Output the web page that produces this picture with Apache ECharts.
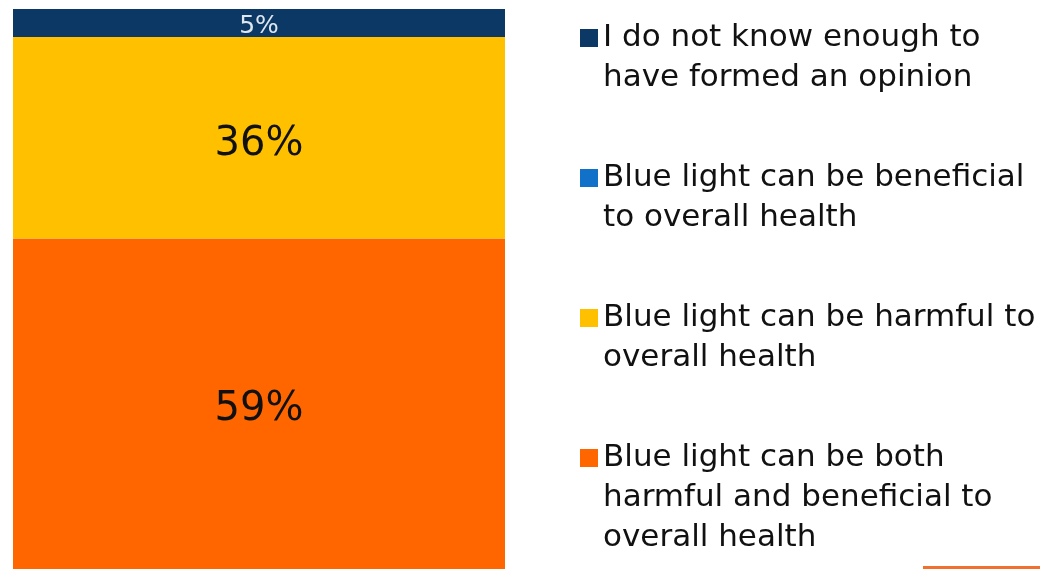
<!DOCTYPE html>
<html>
<head>
<meta charset="utf-8">
<script src="https://cdn.jsdelivr.net/npm/echarts@6/dist/echarts.min.js"></script>
<style>
  html, body { margin: 0; padding: 0; background: #fff; }
  #chart { width: 1040px; height: 569px; }
</style>
</head>
<body>
<div id="chart"></div>
<script>
// One stacked column of survey answers (percent of respondents)
const categories = ['Opinion on blue light'];
const seriesNames = [
  'Blue light can be both\nharmful and beneficial to\noverall health',
  'Blue light can be harmful to\noverall health',
  'Blue light can be beneficial\nto overall health',
  'I do not know enough to\nhave formed an opinion'
];
const seriesValues = [
  [59],
  [36],
  [0],
  [5]
];
const seriesColors = ['#FF6600', '#FFC000', '#1170C8', '#0B3864'];
const labelColors = ['#111111', '#111111', '#ffffff', '#dfe6ee'];
const labelSizes = [40, 40, 24, 25];
const labelShift = [6, 7, 0, 3];
// Legend order, top to bottom, with the y of each entry's first line
const legendOrder = [3, 2, 1, 0];
const legendRowY = [38, 178, 318, 458];

const FONT = 'DejaVu Sans';
const LINE = 40;
const ICON = 18;

const series = seriesNames.map((name, i) => ({
  name: name,
  type: 'bar',
  stack: 'total',
  barWidth: '100%',
  data: seriesValues[i],
  itemStyle: { color: seriesColors[i] },
  label: {
    show: true,
    position: 'inside',
    offset: [0, labelShift[i]],
    color: labelColors[i],
    fontFamily: FONT,
    fontSize: labelSizes[i],
    formatter: p => (p.value > 0 ? p.value + '%' : '')
  }
}));

// One legend block per entry; blank leading lines keep the first text line
// level with the square (legend text is centred on its icon)
const legends = legendOrder.map((si, k) => {
  const n = seriesNames[si].split('\n').length;
  const above = ((2 * n - 1) * LINE) / 2 - ICON / 2;
  return {
    data: [seriesNames[si]],
    orient: 'vertical',
    left: 580,
    top: legendRowY[k] - above - ICON / 2,
    padding: 0,
    itemWidth: ICON,
    itemHeight: ICON,
    icon: 'rect',
    selectedMode: false,
    formatter: name => '\n'.repeat(n - 1) + name,
    textStyle: {
      fontFamily: FONT,
      fontSize: 31,
      color: '#111111',
      lineHeight: LINE
    }
  };
});

const chart = echarts.init(document.getElementById('chart'), null, { renderer: 'canvas' });
chart.setOption({
  animation: false,
  grid: { left: 13, top: 9, width: 492, height: 568, containLabel: false },
  xAxis: { type: 'category', data: categories, show: false },
  yAxis: { type: 'value', min: 0, max: 100, show: false },
  legend: legends,
  series: series,
  graphic: [{
    type: 'rect',
    left: 923,
    top: 566,
    shape: { width: 117, height: 3 },
    style: { fill: '#F07030' }
  }]
});
</script>
</body>
</html>
